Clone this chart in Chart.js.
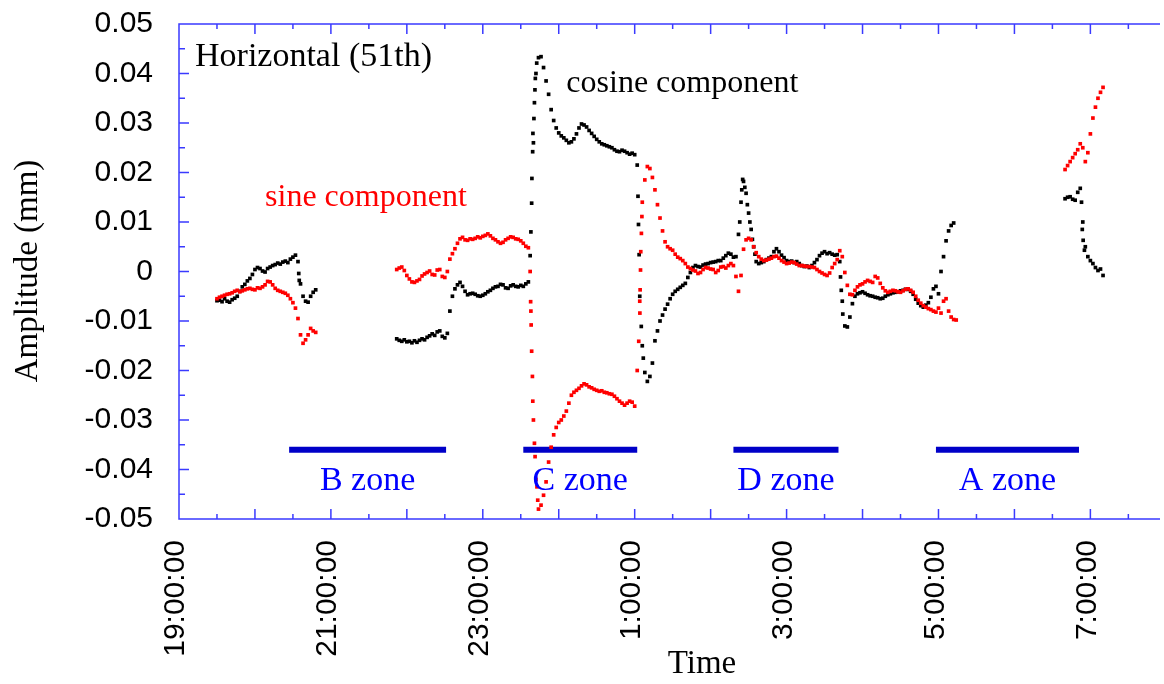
<!DOCTYPE html>
<html>
<head>
<meta charset="utf-8">
<script src="https://cdn.jsdelivr.net/npm/chart.js@4.4.0/dist/chart.umd.min.js"></script>
<style>
  html, body { margin: 0; padding: 0; background: #fff; overflow: hidden; }
  canvas { display: block; }
</style>
</head>
<body>
<canvas id="canvas" width="1164" height="684"></canvas>
<script>
// Samples every 2 minutes, time counted in minutes from 19:00
const sampleStep = 2;
const runStarts = [30, 172, 700];

const cosineA = [
  -0.0059,-0.0058,-0.0061,-0.0055,-0.0060,-0.0062,-0.0057,-0.0054,-0.0050,-0.0040,
  -0.0031,-0.0026,-0.0019,-0.0014,-0.0006,0.0004,0.0008,0.0006,0.0001,-0.0001,
  0.0006,0.0009,0.0012,0.0014,0.0017,0.0015,0.0019,0.0021,0.0018,0.0025,
  0.0029,0.0033,0.0020,-0.0025,-0.0050,-0.0060,-0.0062,-0.0050,-0.0042,-0.0037
];
const cosineB = [
  -0.0136,-0.0139,-0.0141,-0.0138,-0.0142,-0.0141,-0.0144,-0.0140,-0.0143,-0.0139,
  -0.0136,-0.0138,-0.0133,-0.0130,-0.0126,-0.0129,-0.0122,-0.0120,-0.0131,-0.0134,
  -0.0125,-0.0080,-0.0050,-0.0035,-0.0027,-0.0022,-0.0030,-0.0040,-0.0047,-0.0045,
  -0.0044,-0.0046,-0.0049,-0.0050,-0.0048,-0.0045,-0.0041,-0.0038,-0.0034,-0.0031,
  -0.0030,-0.0026,-0.0027,-0.0033,-0.0034,-0.0029,-0.0027,-0.0030,-0.0031,-0.0028,
  -0.0030,-0.0025,-0.0021,0.0080,0.0260,0.0400,0.0432,0.0434,0.0412,0.0385,
  0.0358,0.0327,0.0305,0.0290,0.0280,0.0274,0.0270,0.0265,0.0260,0.0262,
  0.0268,0.0278,0.0290,0.0298,0.0296,0.0292,0.0285,0.0279,0.0273,0.0267,
  0.0262,0.0258,0.0256,0.0254,0.0252,0.0250,0.0246,0.0243,0.0242,0.0245,
  0.0243,0.0240,0.0237,0.0239,0.0236,0.0215,-0.0050,-0.0150,-0.0204,-0.0222,
  -0.0212,-0.0185,-0.0140,-0.0120,-0.0100,-0.0088,-0.0076,-0.0066,-0.0055,-0.0046,
  -0.0040,-0.0036,-0.0032,-0.0028,-0.0024,-0.0012,-0.0002,0.0008,0.0012,0.0010,
  0.0009,0.0013,0.0015,0.0016,0.0018,0.0019,0.0020,0.0022,0.0022,0.0027,
  0.0032,0.0037,0.0035,0.0029,0.0030,0.0075,0.0140,0.0182,0.0158,0.0118,
  0.0085,0.0050,0.0020,0.0016,0.0018,0.0020,0.0024,0.0027,0.0030,0.0040,
  0.0046,0.0040,0.0033,0.0028,0.0022,0.0020,0.0021,0.0018,0.0020,0.0016,
  0.0012,0.0010,0.0011,0.0008,0.0012,0.0018,0.0024,0.0032,0.0037,0.0040,
  0.0036,0.0038,0.0035,0.0033,0.0034,0.0020,-0.0060,-0.0110,-0.0112,-0.0092,
  -0.0065,-0.0050,-0.0045,-0.0043,-0.0041,-0.0044,-0.0047,-0.0049,-0.0050,-0.0052,
  -0.0053,-0.0055,-0.0054,-0.0050,-0.0047,-0.0045,-0.0043,-0.0042,-0.0041,-0.0039,
  -0.0038,-0.0036,-0.0036,-0.0040,-0.0046,-0.0056,-0.0064,-0.0069,-0.0072,-0.0068,
  -0.0063,-0.0052,-0.0035,-0.0030,-0.0045,0.0000,0.0030,0.0062,0.0082,0.0093,
  0.0098
];
const cosineC = [
  0.0147,0.0150,0.0151,0.0146,0.0144,0.0160,0.0168,0.0100,0.0050,0.0030,
  0.0022,0.0016,0.0008,0.0002,0.0005,-0.0008
];
// extra readings caught inside the fast jumps (minute, value)
const cosineTrailAt = [94.6, 95.0, 277.4, 278.6, 278.8, 279.4, 279.6, 280.4, 280.8, 281.2, 281.5, 282.6,
  362.6, 363.0, 363.5, 365.2, 366.8, 443.0, 444.6, 445.3, 447.0, 449.0, 451.0, 453.0, 455.0,
  522.6, 523.2, 524.4, 713.0, 713.6, 714.3, 715.3];
const cosineTrail = [-0.0004, -0.0018, 0.0032, 0.0138, 0.0188, 0.0242, 0.0279, 0.0309, 0.0341, 0.0367, 0.0390, 0.0421,
  0.0152, 0.0095, 0.0034, -0.0111, -0.0175, 0.0100, 0.0165, 0.0186, 0.0170, 0.0135, 0.0100, 0.0065, 0.0035,
  -0.0011, -0.0038, -0.0086, 0.0140, 0.0085, 0.0063, 0.0043];

const sineA = [
  -0.0055,-0.0052,-0.0050,-0.0048,-0.0046,-0.0045,-0.0043,-0.0040,-0.0038,-0.0041,
  -0.0039,-0.0037,-0.0035,-0.0034,-0.0036,-0.0037,-0.0033,-0.0034,-0.0031,-0.0027,
  -0.0020,-0.0021,-0.0027,-0.0034,-0.0038,-0.0040,-0.0042,-0.0044,-0.0048,-0.0055,
  -0.0063,-0.0074,-0.0095,-0.0128,-0.0145,-0.0138,-0.0128,-0.0115,-0.0120,-0.0123
];
const sineB = [
  0.0004,0.0007,0.0009,0.0002,-0.0008,-0.0015,-0.0021,-0.0022,-0.0019,-0.0016,
  -0.0009,-0.0005,-0.0002,0.0001,-0.0006,-0.0007,0.0003,0.0004,-0.0010,-0.0012,
  0.0000,0.0025,0.0036,0.0046,0.0057,0.0066,0.0069,0.0064,0.0063,0.0066,
  0.0065,0.0067,0.0070,0.0068,0.0071,0.0073,0.0076,0.0072,0.0067,0.0064,
  0.0060,0.0057,0.0059,0.0064,0.0067,0.0070,0.0069,0.0066,0.0065,0.0062,
  0.0057,0.0051,0.0048,-0.0080,-0.0300,-0.0420,-0.0480,-0.0472,-0.0452,-0.0425,
  -0.0385,-0.0355,-0.0330,-0.0315,-0.0305,-0.0300,-0.0292,-0.0282,-0.0266,-0.0250,
  -0.0244,-0.0240,-0.0236,-0.0231,-0.0227,-0.0229,-0.0233,-0.0235,-0.0238,-0.0240,
  -0.0242,-0.0241,-0.0244,-0.0245,-0.0247,-0.0248,-0.0252,-0.0257,-0.0262,-0.0266,
  -0.0270,-0.0266,-0.0262,-0.0264,-0.0272,-0.0200,-0.0060,0.0140,0.0185,0.0212,
  0.0208,0.0190,0.0165,0.0135,0.0108,0.0082,0.0060,0.0050,0.0046,0.0043,
  0.0035,0.0029,0.0026,0.0022,0.0016,0.0009,0.0006,0.0003,0.0001,-0.0004,
  -0.0002,0.0004,0.0008,0.0007,0.0005,0.0004,-0.0002,0.0002,0.0009,0.0010,
  0.0007,0.0012,0.0016,0.0012,-0.0010,-0.0040,-0.0008,0.0045,0.0064,0.0067,
  0.0064,0.0050,0.0038,0.0030,0.0025,0.0022,0.0023,0.0025,0.0027,0.0030,
  0.0031,0.0027,0.0022,0.0019,0.0016,0.0017,0.0019,0.0018,0.0015,0.0012,
  0.0012,0.0011,0.0010,0.0010,0.0009,0.0008,0.0004,0.0000,-0.0003,-0.0006,
  -0.0008,-0.0003,0.0008,0.0016,0.0024,0.0042,0.0030,-0.0002,-0.0028,-0.0046,
  -0.0047,-0.0038,-0.0031,-0.0027,-0.0025,-0.0021,-0.0018,-0.0020,-0.0022,-0.0010,
  -0.0013,-0.0024,-0.0033,-0.0039,-0.0042,-0.0040,-0.0038,-0.0039,-0.0041,-0.0042,
  -0.0039,-0.0036,-0.0035,-0.0038,-0.0042,-0.0050,-0.0058,-0.0064,-0.0069,-0.0072,
  -0.0075,-0.0077,-0.0080,-0.0082,-0.0074,-0.0084,-0.0060,-0.0055,-0.0080,-0.0092,
  -0.0097,-0.0098
];
const sineC = [
  0.0206,0.0214,0.0222,0.0230,0.0238,0.0246,0.0258,0.0250,0.0222,0.0240,
  0.0278,0.0310,0.0332,0.0350,0.0362,0.0372
];
const sineTrailAt = [277.4, 277.8, 278.2, 278.6, 279.2, 279.5, 280.8, 281.3, 282.8, 283.4,
  363.2, 364.1, 364.3, 364.6, 364.8, 365.3, 365.7];
const sineTrail = [0.0000, -0.0061, -0.0108, -0.0161, -0.0212, -0.0262, -0.0347, -0.0374, -0.0435, -0.0462,
  -0.0141, -0.0084, -0.0037, 0.0003, 0.0040, 0.0077, 0.0111];

// measurement zones (minutes from 19:00) and the level their bars sit at
const zoneNames = ['B zone', 'C zone', 'D zone', 'A zone'];
const zoneFrom = [87, 272, 438, 598];
const zoneTo = [211, 362, 521, 711];
const zoneLevel = -0.036;

// time axis labels every two hours
const timeLabelMinutes = [0, 120, 240, 360, 480, 600, 720];
const timeLabels = ['19:00:00', '21:00:00', '23:00:00', '1:00:00', '3:00:00', '5:00:00', '7:00:00'];
const yTickValues = [0.05, 0.04, 0.03, 0.02, 0.01, 0, -0.01, -0.02, -0.03, -0.04, -0.05];
const yTickLabels = ['0.05', '0.04', '0.03', '0.02', '0.01', '0', '-0.01', '-0.02', '-0.03', '-0.04', '-0.05'];

const axisBlue = '#3a3aff';
const zoneBlue = '#0000c8';
const serif = '"Liberation Serif", "Times New Roman", serif';
const sans = '"Liberation Sans", Arial, sans-serif';

function toPoints(runs, trailAt, trail) {
  const pts = [];
  runs.forEach((vals, r) => {
    vals.forEach((v, i) => pts.push({ x: runStarts[r] + i * sampleStep, y: v }));
  });
  trailAt.forEach((t, i) => pts.push({ x: t, y: trail[i] }));
  return pts;
}

const zoneSets = zoneNames.map((name, i) => ({
  label: name,
  data: [{ x: zoneFrom[i], y: zoneLevel }, { x: zoneTo[i], y: zoneLevel }],
  showLine: true,
  borderColor: zoneBlue,
  borderWidth: 6,
  borderCapStyle: 'butt',
  pointRadius: 0
}));

const frame = {
  id: 'frame',
  afterDraw(chart) {
    const { ctx, chartArea: a, scales: { x, y } } = chart;
    ctx.save();

    // axis box (no right side) with inward ticks
    ctx.strokeStyle = axisBlue;
    ctx.lineWidth = 1.5;
    ctx.beginPath();
    ctx.moveTo(a.right, a.top);
    ctx.lineTo(a.left, a.top);
    ctx.lineTo(a.left, a.bottom);
    ctx.lineTo(a.right, a.bottom);
    for (let m = 0; m <= x.max; m += 30) {
      const px = x.getPixelForValue(m);
      const len = m % 60 === 0 ? 10 : 5;
      ctx.moveTo(px, a.bottom); ctx.lineTo(px, a.bottom - len);
      ctx.moveTo(px, a.top); ctx.lineTo(px, a.top + len);
    }
    for (let k = -10; k <= 10; k++) {
      const py = y.getPixelForValue(k * 0.005);
      const len = k % 2 === 0 ? 10 : 6;
      ctx.moveTo(a.left, py); ctx.lineTo(a.left + len, py);
    }
    ctx.stroke();

    // rotated time labels
    ctx.fillStyle = '#000';
    ctx.font = '30px ' + sans;
    ctx.textAlign = 'right';
    ctx.textBaseline = 'middle';
    timeLabels.forEach((txt, i) => {
      ctx.save();
      ctx.translate(x.getPixelForValue(timeLabelMinutes[i]), a.bottom + 21);
      ctx.rotate(-Math.PI / 2);
      ctx.fillText(txt, 0, -3);
      ctx.restore();
    });

    // axis titles
    ctx.font = '33px ' + serif;
    ctx.textAlign = 'center';
    ctx.textBaseline = 'alphabetic';
    ctx.fillText('Time', 702, 673);
    ctx.save();
    ctx.translate(37, 271);
    ctx.rotate(-Math.PI / 2);
    ctx.fillText('Amplitude (mm)', 0, 0);
    ctx.restore();

    // in-plot notes
    ctx.textAlign = 'left';
    ctx.font = '34px ' + serif;
    ctx.fillText('Horizontal (51th)', a.left + 16, a.top + 42);
    ctx.font = '32px ' + serif;
    ctx.fillText('cosine component', x.getPixelForValue(306), y.getPixelForValue(0.0363));
    ctx.fillStyle = '#ff0000';
    ctx.fillText('sine component', x.getPixelForValue(68), y.getPixelForValue(0.0132));

    // zone names under their bars
    ctx.fillStyle = '#0000ff';
    ctx.font = '34px ' + serif;
    ctx.textAlign = 'center';
    zoneNames.forEach((name, i) => {
      const cx = x.getPixelForValue((zoneFrom[i] + zoneTo[i]) / 2);
      ctx.fillText(name, cx, y.getPixelForValue(zoneLevel) + 40);
    });

    ctx.restore();
  }
};

const ctx = document.getElementById('canvas').getContext('2d');
new Chart(ctx, {
  type: 'scatter',
  data: {
    datasets: [
      {
        label: 'sine component',
        data: toPoints([sineA, sineB, sineC], sineTrailAt, sineTrail),
        pointStyle: 'rect',
        pointRadius: 2.6,
        pointBorderWidth: 0,
        backgroundColor: '#ff0000'
      },
      {
        label: 'cosine component',
        data: toPoints([cosineA, cosineB, cosineC], cosineTrailAt, cosineTrail),
        pointStyle: 'rect',
        pointRadius: 2.6,
        pointBorderWidth: 0,
        backgroundColor: '#000000'
      },
      ...zoneSets
    ]
  },
  options: {
    responsive: false,
    animation: false,
    events: [],
    layout: { padding: { top: 24, right: 0, bottom: 0, left: 0 } },
    plugins: { legend: { display: false }, tooltip: { enabled: false } },
    scales: {
      x: {
        type: 'linear',
        min: 0,
        max: 775,
        grid: { display: false },
        border: { display: false },
        ticks: { display: false },
        afterFit: (s) => { s.height = 165; s.paddingLeft = 0; s.paddingRight = 0; }
      },
      y: {
        min: -0.05,
        max: 0.05,
        grid: { display: false, drawTicks: false },
        border: { display: false },
        afterBuildTicks: (s) => { s.ticks = yTickValues.map(v => ({ value: v })); },
        ticks: {
          padding: 26,
          color: '#000',
          font: { family: sans, size: 30 },
          callback: (v) => yTickLabels[yTickValues.findIndex(t => Math.abs(t - v) < 1e-9)]
        },
        afterFit: (s) => { s.width = 179; s.paddingTop = 0; s.paddingBottom = 0; }
      }
    }
  },
  plugins: [frame]
});
</script>
</body>
</html>
